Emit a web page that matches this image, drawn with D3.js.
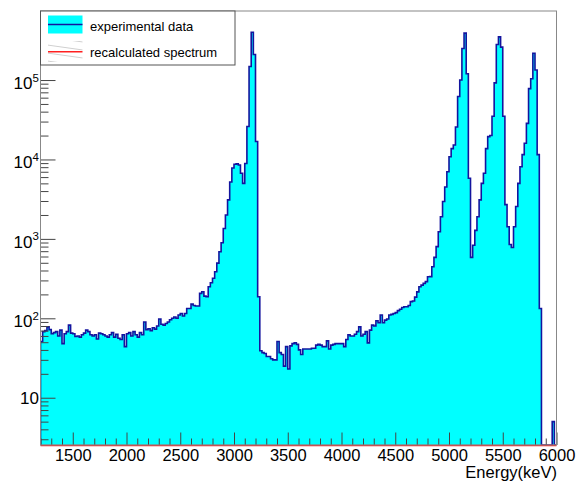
<!DOCTYPE html>
<html>
<head>
  <meta charset="utf-8">
  <title>Energy spectrum</title>
  <style>
    body { margin: 0; background: #fff; }
    svg text { font-family: "Liberation Sans", Arial, Helvetica, sans-serif; fill: #000; }
  </style>
</head>
<body>
  <div id="chart"></div>
  <script src="https://d3js.org/d3.v7.min.js"></script>
  <script>

    // ---------------------------------------------------------- data
    let binStart = 1200;
    let binWidth = 20;
    // counts per 20 keV bin, one row = 200 keV
    let counts = [
      51, 68, 70, 78, 72, 64, 66, 68, 60, 71,                    // 1200
      48, 64, 68, 82, 65, 64, 59, 60, 58, 62,                    // 1400
      65, 71, 68, 62, 60, 62, 55, 65, 64, 62,                    // 1600
      60, 58, 62, 66, 58, 63, 56, 54, 62, 44,                    // 1800
      64, 66, 60, 68, 62, 58, 66, 62, 90, 72,                    // 2000
      74, 70, 76, 73, 80, 98, 84, 82, 86, 90,                    // 2200
      96, 100, 104, 100, 110, 115, 107, 115, 133, 133,           // 2400
      151, 145, 143, 143, 206, 216, 190, 187, 250, 280,          // 2600
      320, 385, 495, 690, 895, 1350, 2000, 3100, 5200, 7800,     // 2800
      8700, 8800, 8500, 6700, 5000, 8900, 26000, 148000, 400000, 210000, // 3000
      16800, 187, 39, 37, 36, 33, 33, 31, 30, 30,                // 3200
      51, 37, 35, 25, 44, 23, 45, 48, 49, 47,                    // 3400
      40, 35, 41, 41, 41, 41, 42, 42, 46, 47,                    // 3600
      46, 44, 44, 52, 41, 46, 47, 48, 48, 48,                    // 3800
      48, 44, 54, 62, 60, 60, 63, 68, 78, 60,                    // 4000
      63, 68, 49, 71, 82, 80, 93, 88, 110, 88,                   // 4200
      95, 98, 110, 112, 115, 118, 125, 130, 137, 140,            // 4400
      140, 145, 162, 165, 185, 215, 250, 262, 275, 290,          // 4600
      333, 335, 445, 585, 800, 1230, 1900, 2950, 4500, 7000,     // 4800
      10800, 13700, 15200, 25600, 62000, 100000, 250000, 390000, 120000, 5800, // 5000
      585, 830, 1280, 1900, 3100, 5000, 6700, 13700, 19400, 20000,            // 5200
      35000, 92000, 280000, 350000, 260000, 35000, 2700, 1420, 850, 780,      // 5400
      1420, 2560, 5000, 8100, 11500, 16000, 28500, 78000, 104000, 217000,     // 5600
      134000, 11500, 133, 0, 0, 0, 0, 0, 5, 0                    // 5800
    ];
    let recalcRange = [1200, 6000];   // recalculated spectrum sits below the axis minimum

    let xTicks = [1500, 2000, 2500, 3000, 3500, 4000, 4500, 5000, 5500, 6000];
    let yTicks = [10, 100, 1000, 10000, 100000];
    let yExponents = ['', '2', '3', '4', '5'];
    let legendLabels = ['experimental data', 'recalculated spectrum'];
    let xTitle = 'Energy(keV)';

    // ---------------------------------------------------------- layout
    let svgWidth = 576;
    let svgHeight = 484;
    let frame = {left: 40.5, right: 556.5, top: 11, bottom: 445};

    let svg = d3.select('#chart')
      .append('svg')
      .attr('width', svgWidth)
      .attr('height', svgHeight);

    let x = d3.scaleLinear()
      .domain([1200, 6000])
      .range([frame.left, frame.right]);

    let y = d3.scaleLog()
      .domain([2.54, 7.4e5])
      .range([frame.bottom, frame.top])
      .clamp(true);

    svg.append('clipPath').attr('id', 'frameClip')
      .append('rect')
      .attr('x', frame.left).attr('y', frame.top)
      .attr('width', frame.right - frame.left)
      .attr('height', frame.bottom - frame.top);

    // ---------------------------------------------------------- histogram
    let bins = counts.map((c, i) => ({e: binStart + i * binWidth, c: c}));
    bins.push({e: binStart + counts.length * binWidth, c: 0});

    let yv = d => d.c > 0 ? y(d.c) : frame.bottom;

    let area = d3.area()
      .curve(d3.curveStepAfter)
      .x(d => x(d.e))
      .y0(frame.bottom)
      .y1(yv);

    let outline = d3.line()
      .curve(d3.curveStepAfter)
      .x(d => x(d.e))
      .y(yv);

    let g = svg.append('g').attr('clip-path', 'url(#frameClip)');

    g.append('path')
      .attr('d', area(bins))
      .style('fill', '#00ffff');

    g.append('path')
      .attr('d', outline([{e: binStart, c: 0}].concat(bins)))
      .style('fill', 'none')
      .style('stroke', '#14149e')
      .style('stroke-width', 1.6)
      .style('stroke-linejoin', 'miter');

    // recalculated spectrum (all below the plotted minimum)
    svg.append('line')
      .attr('x1', x(recalcRange[0])).attr('x2', x(recalcRange[1]))
      .attr('y1', frame.bottom + 0.5).attr('y2', frame.bottom + 0.5)
      .style('stroke', '#ff2020')
      .style('stroke-width', 1.6);

    // ---------------------------------------------------------- axes
    let xMinor = d3.range(1200, 6001, 100).filter(v => xTicks.indexOf(v) < 0);

    let xAxisMinor = svg.append('g')
      .attr('transform', 'translate(0,' + frame.bottom + ')')
      .call(d3.axisBottom(x).tickValues(xMinor).tickSize(-6.5).tickFormat(''));

    let xAxis = svg.append('g')
      .attr('transform', 'translate(0,' + frame.bottom + ')')
      .call(d3.axisBottom(x).tickValues(xTicks).tickSize(-12.5).tickPadding(4.5)
        .tickFormat(d => String(d)));

    xAxis.selectAll('text').style('font-size', '16.5px');

    let yMinor = y.ticks().filter(v => yTicks.indexOf(v) < 0);

    let yAxisMinor = svg.append('g')
      .attr('transform', 'translate(' + frame.left + ',0)')
      .call(d3.axisLeft(y).tickValues(yMinor).tickSize(-8).tickFormat(''));

    let yAxis = svg.append('g')
      .attr('transform', 'translate(' + frame.left + ',0)')
      .call(d3.axisLeft(y).tickValues(yTicks).tickSize(-15).tickFormat(''));

    svg.selectAll('.domain').remove();
    svg.selectAll('.tick line').style('stroke', '#444').style('stroke-width', 1);

    // y labels with superscript exponents
    yTicks.forEach(function(v, i) {
      let ty = y(v);
      if (yExponents[i] === '') {
        svg.append('text')
          .attr('x', 39).attr('y', ty + 6.5)
          .attr('text-anchor', 'end')
          .style('font-size', '17px')
          .text('10');
      } else {
        svg.append('text')
          .attr('x', 32.5).attr('y', ty + 9)
          .attr('text-anchor', 'end')
          .style('font-size', '17px')
          .text('10');
        svg.append('text')
          .attr('x', 32.5).attr('y', ty + 1.5)
          .style('font-size', '11.5px')
          .text(yExponents[i]);
      }
    });

    svg.append('text')
      .attr('x', frame.right + 0.5)
      .attr('y', 477.5)
      .attr('text-anchor', 'end')
      .style('font-size', '16.5px')
      .text(xTitle);

    // frame
    svg.append('rect')
      .attr('x', frame.left).attr('y', frame.top)
      .attr('width', frame.right - frame.left)
      .attr('height', frame.bottom - frame.top)
      .style('fill', 'none')
      .style('stroke', '#888')
      .style('stroke-width', 1);

    // ---------------------------------------------------------- legend
    let leg = svg.append('g');
    leg.append('rect')
      .attr('x', frame.left).attr('y', frame.top)
      .attr('width', 194.5).attr('height', 54)
      .style('fill', '#fff')
      .style('stroke', '#555')
      .style('stroke-width', 1);

    leg.append('rect')
      .attr('x', 48).attr('y', 15.5)
      .attr('width', 34.5).attr('height', 18)
      .style('fill', '#00ffff');
    leg.append('line')
      .attr('x1', 48).attr('x2', 82.5)
      .attr('y1', 24.5).attr('y2', 24.5)
      .style('stroke', '#14149e').style('stroke-width', 1.6);

    leg.append('clipPath').attr('id', 'hatchClip')
      .append('rect').attr('x', 48).attr('y', 41).attr('width', 34.5).attr('height', 21);
    let hatch = leg.append('g').attr('clip-path', 'url(#hatchClip)');
    [36, 44, 52, 60].forEach(function(h) {
      hatch.append('line')
        .attr('x1', 40).attr('x2', 90)
        .attr('y1', h).attr('y2', h + 7)
        .style('stroke', '#d0d0d0').style('stroke-width', 1);
    });
    leg.append('line')
      .attr('x1', 48).attr('x2', 82.5)
      .attr('y1', 51.7).attr('y2', 51.7)
      .style('stroke', '#ff2020').style('stroke-width', 1.6);

    leg.selectAll('text.lab')
      .data(legendLabels)
      .enter()
      .append('text')
      .attr('class', 'lab')
      .attr('x', 90)
      .attr('y', (d, i) => 30.5 + i * 26.5)
      .style('font-size', '13px')
      .text(d => d);

  </script>
</body>
</html>
